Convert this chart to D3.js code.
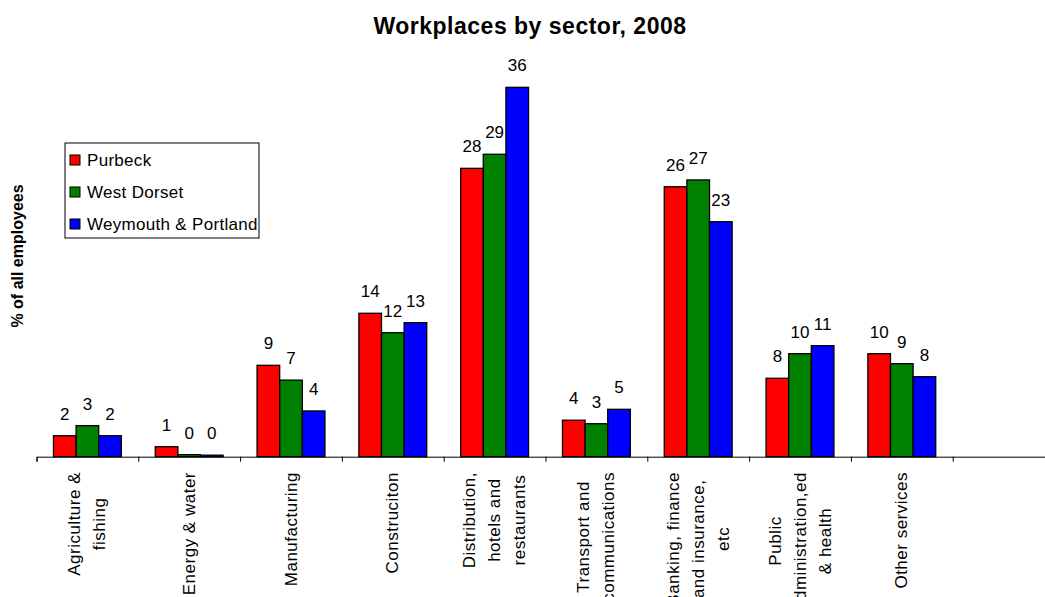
<!DOCTYPE html>
<html>
<head>
<meta charset="utf-8">
<script src="https://cdn.jsdelivr.net/npm/d3@7"></script>
<style>
  html, body { margin: 0; padding: 0; background: #fff; }
  svg { display: block; font-family: "Liberation Sans", Arial, sans-serif; }
</style>
</head>
<body>
<svg id="chart" width="1045" height="597"></svg>
<script>
// ---- Data ----
const categories = [
  "Agriculture &\nfishing",
  "Energy & water",
  "Manufacturing",
  "Construciton",
  "Distribution,\nhotels and\nrestaurants",
  "Transport and\ncommunications",
  "Banking, finance\nand insurance,\netc",
  "Public\nadministration,ed\n& health",
  "Other services"
];
const seriesNames = ["Purbeck", "West Dorset", "Weymouth & Portland"];
const purbeck     = [2.04, 0.97, 8.89, 13.95, 28.05, 3.55, 26.26, 7.63, 10.02];
const westDorset  = [3.02, 0.20, 7.45, 12.06, 29.42, 3.21, 26.92, 10.02, 9.05];
const weymouth    = [2.04, 0.15, 4.45, 13.04, 35.93, 4.61, 22.86, 10.80, 7.78];
const seriesValues = [purbeck, westDorset, weymouth];
const seriesColors = ["#FF0000", "#008000", "#0000FF"];
const title = "Workplaces by sector, 2008";
const yTitle = "% of all employees";

// ---- Layout ----
const svg = d3.select("#chart");
const baseY = 456.7;
const slotDomain = categories.concat([""]); // empty trailing slot
const x = d3.scaleBand().domain(d3.range(slotDomain.length)).range([36.5, 1054.5]).padding(0);
const bw = x.bandwidth() / 4.5;
const xs = d3.scaleBand().domain(d3.range(seriesNames.length)).range([0, 3 * bw]).padding(0);
const y = d3.scaleLinear().domain([0, 40]).range([baseY, baseY - 40 * 10.28]);

// Title
svg.append("text")
  .attr("x", 530).attr("y", 33.5)
  .attr("text-anchor", "middle")
  .style("font-size", "23px").style("font-weight", "bold")
  .style("letter-spacing", "0.5px")
  .text(title);

// Y axis title
svg.append("text")
  .attr("transform", "translate(17,256) rotate(-90)")
  .attr("text-anchor", "middle")
  .attr("dominant-baseline", "central")
  .style("font-size", "16px").style("font-weight", "bold")
  .text(yTitle);

// Bars
const groups = svg.append("g").selectAll("g")
  .data(categories)
  .join("g")
  .attr("transform", (d, i) => `translate(${x(i) + 0.75 * bw},0)`);

seriesValues.forEach((vals, s) => {
  groups.append("rect")
    .attr("x", xs(s))
    .attr("width", xs.bandwidth())
    .attr("y", (d, i) => y(vals[i]))
    .attr("height", (d, i) => baseY - y(vals[i]))
    .attr("fill", seriesColors[s])
    .attr("stroke", "#000")
    .attr("stroke-width", 1.3);
  groups.append("text")
    .attr("x", xs(s) + xs.bandwidth() / 2)
    .attr("y", (d, i) => y(vals[i]) - 21.5)
    .attr("text-anchor", "middle")
    .attr("dominant-baseline", "central")
    .style("font-size", "17px")
    .text((d, i) => Math.round(vals[i]));
});

// X axis
const axisScale = d3.scaleLinear().domain([0, slotDomain.length]).range(x.range());
const axisG = svg.append("g").attr("transform", `translate(0,${baseY})`)
  .call(d3.axisBottom(axisScale).tickValues(d3.range(slotDomain.length + 1)).tickSize(5).tickFormat(""));
axisG.selectAll("path, line").attr("stroke", "#000").attr("stroke-width", 1);

// Category labels
const labelTop = 472;
const lineGap = 25;
categories.forEach((cat, i) => {
  const lines = cat.split("\n");
  const cx = x(i) + x.bandwidth() / 2;
  const texts = lines.map((ln, j) => svg.append("text")
    .attr("text-anchor", "middle")
    .attr("dominant-baseline", "central")
    .style("font-size", "17px")
    .style("letter-spacing", "0.5px")
    .text(ln));
  const maxW = d3.max(texts, t => t.node().getComputedTextLength());
  texts.forEach((t, j) => {
    const lx = cx + (j - (lines.length - 1) / 2) * lineGap;
    const ly = labelTop + maxW / 2;
    t.attr("transform", `translate(${lx},${ly}) rotate(-90)`);
  });
});

// Legend
const legend = svg.append("g");
legend.append("rect")
  .attr("x", 65).attr("y", 143).attr("width", 194).attr("height", 95)
  .attr("fill", "#fff").attr("stroke", "#000").attr("stroke-width", 1);
seriesNames.forEach((name, s) => {
  const cy = 160 + s * 32;
  legend.append("rect")
    .attr("x", 70).attr("y", cy - 5).attr("width", 10).attr("height", 10)
    .attr("fill", seriesColors[s]).attr("stroke", "#000").attr("stroke-width", 1);
  legend.append("text")
    .attr("x", 87).attr("y", cy)
    .attr("dominant-baseline", "central")
    .style("font-size", "17px")
    .style("letter-spacing", "0.3px")
    .text(name);
});
</script>
</body>
</html>
